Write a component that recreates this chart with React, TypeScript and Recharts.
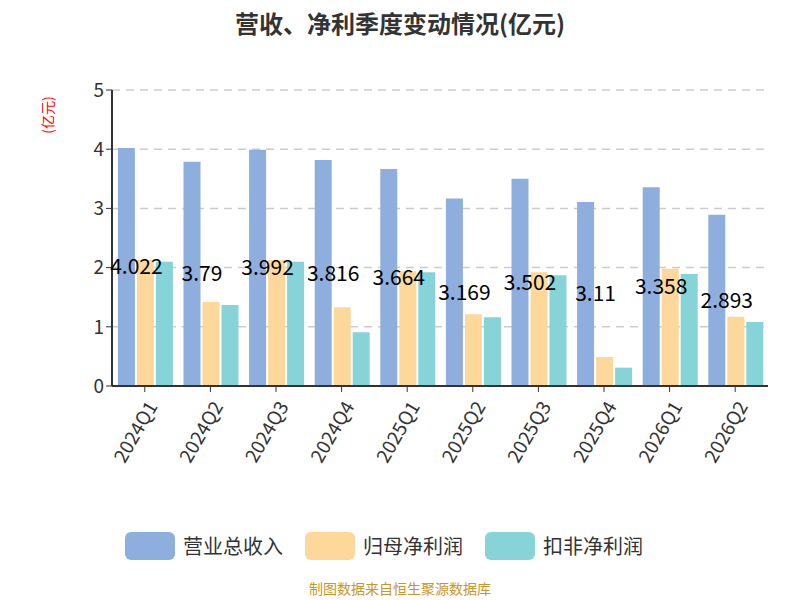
import React from "react"
import { BarChart, Bar, XAxis, YAxis, CartesianGrid, Legend, LabelList } from "recharts"

const quarters = ["2024Q1", "2024Q2", "2024Q3", "2024Q4", "2025Q1", "2025Q2", "2025Q3", "2025Q4", "2026Q1", "2026Q2"]
const revenue = [4.022, 3.79, 3.992, 3.816, 3.664, 3.169, 3.502, 3.11, 3.358, 2.893]
const netProfit = [2.13, 1.42, 2.13, 1.33, 1.94, 1.21, 1.92, 0.49, 1.98, 1.17]
const deductedProfit = [2.1, 1.37, 2.1, 0.91, 1.92, 1.16, 1.87, 0.31, 1.89, 1.08]
const yTicks = [0, 1, 2, 3, 4, 5]

const data = quarters.map((q, i) => ({
  q,
  revenue: revenue[i],
  net: netProfit[i],
  deducted: deductedProfit[i],
}))

const font = "'Noto Sans CJK SC', 'Noto Sans', sans-serif"

function XTick({ x, y, payload }: any) {
  return (
    <text
      x={x + 6}
      y={y + 8}
      transform={`rotate(-60 ${x + 6} ${y + 8})`}
      textAnchor="end"
      dominantBaseline="central"
      fontSize={19}
      fill="#333"
      fontFamily={font}
    >
      {payload.value}
    </text>
  )
}

export default function App() {
  return (
    <div style={{ position: "absolute", left: 0, top: 0, width: 800, height: 600, background: "#fff", fontFamily: font }}>
      <div style={{ position: "absolute", top: 5, width: 800, textAlign: "center", fontSize: 24, fontWeight: 700, color: "#333" }}>
        营收、净利季度变动情况(亿元)
      </div>
      <div
        style={{
          position: "absolute",
          left: 24,
          top: 105,
          transform: "rotate(-90deg)",
          transformOrigin: "center",
          color: "red",
          fontSize: 14,
          width: 46,
          textAlign: "center",
        }}
      >
        (亿元)
      </div>
      <BarChart
        width={800}
        height={560}
        data={data}
        margin={{ top: 90, right: 32, left: 0, bottom: 0 }}
        barGap={2}
        barCategoryGap="9%"
      >
        <CartesianGrid vertical={false} stroke="#ccc" strokeDasharray="8 6" strokeWidth={1.5} />
        <XAxis
          dataKey="q"
          height={133}
          tick={<XTick />}
          interval={0}
          axisLine={{ stroke: "#333", strokeWidth: 2 }}
          tickLine={{ stroke: "#333" }}
          tickSize={6}
        />
        <YAxis
          width={112}
          domain={[0, 5]}
          ticks={yTicks}
          tick={{ fill: "#333", fontSize: 19, fontFamily: font }}
          axisLine={{ stroke: "#333", strokeWidth: 2 }}
          tickLine={{ stroke: "#333" }}
          tickSize={6}
        />
        <Legend
          verticalAlign="bottom"
          content={() => (
            <div style={{ display: "flex", justifyContent: "center", gap: 22, fontSize: 20, color: "#333", marginTop: 12 }}>
              {[
                ["营业总收入", "#8eaedd"],
                ["归母净利润", "#fed79a"],
                ["扣非净利润", "#86d3d8"],
              ].map(([n, c]) => (
                <div key={n} style={{ display: "flex", alignItems: "center", gap: 8 }}>
                  <span style={{ display: "inline-block", width: 50, height: 28, borderRadius: 6, background: c }} />
                  {n}
                </div>
              ))}
            </div>
          )}
        />
        <Bar dataKey="revenue" fill="#8eaedd" isAnimationActive={false}>
          <LabelList dataKey="revenue" position="center" fill="#000" fontSize={21} fontFamily={font} dx={10} />
        </Bar>
        <Bar dataKey="net" fill="#fed79a" isAnimationActive={false} />
        <Bar dataKey="deducted" fill="#86d3d8" isAnimationActive={false} />
      </BarChart>
      <div style={{ position: "absolute", top: 578, width: 800, textAlign: "center", fontSize: 14, color: "#c8962a" }}>
        制图数据来自恒生聚源数据库
      </div>
    </div>
  )
}
